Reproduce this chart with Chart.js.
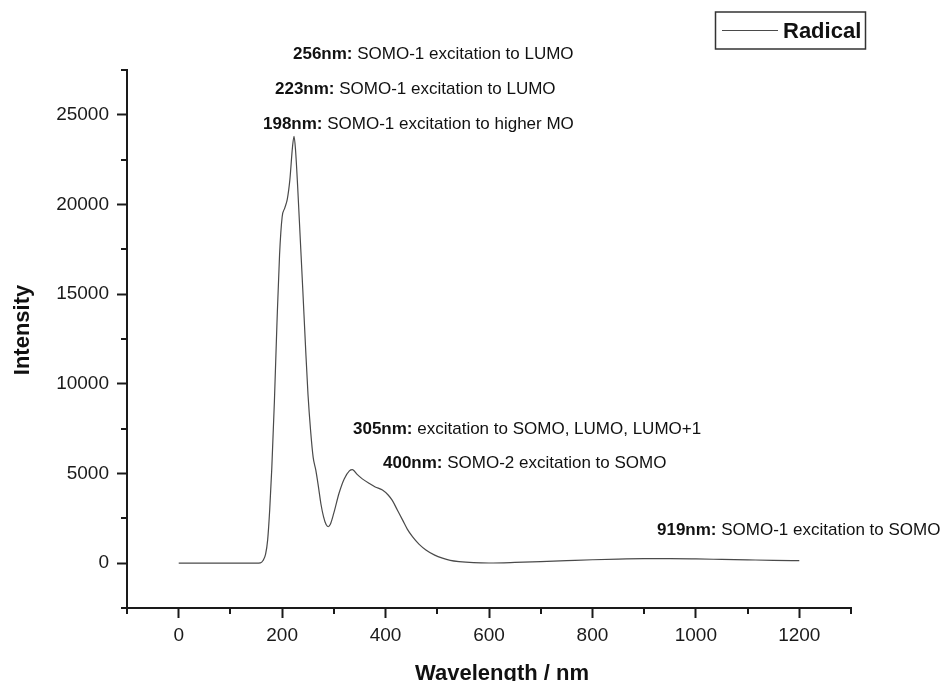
<!DOCTYPE html>
<html>
<head>
<meta charset="utf-8">
<script src="https://cdn.jsdelivr.net/npm/chart.js@4/dist/chart.umd.min.js"></script>
<style>
  body { margin: 0; background: #fff; }
  #wrap { width: 949px; height: 681px; position: relative; }
</style>
</head>
<body>
<div id="wrap"><canvas id="spectrumChart"></canvas></div>
<script>
// Datos del espectro
const wavelength = [0, 50, 100, 150, 158, 163, 168, 172, 176, 180, 185, 190, 195, 200, 205, 210, 215, 220, 223,
    226, 230, 235, 240, 245, 250, 255, 260, 265, 270, 275, 280, 285, 289, 293, 300, 310, 320, 330, 336,
    345, 355, 368, 380, 394, 405, 413, 423, 433, 442, 452, 465, 478, 495, 510, 525, 542, 570, 600, 650,
    700, 750, 800, 850, 900, 950, 1000, 1050, 1100, 1150, 1200];
const intensity = [0, 0, 0, 0, 20, 150, 500, 1300, 3000, 5300, 9000, 13400, 17200, 19300, 19800, 20300, 21400, 23200, 23800,
    23000, 21000, 18100, 15200, 12200, 9400, 7400, 5900, 5200, 4300, 3300, 2600, 2150, 2030, 2150, 2800, 3900, 4700, 5150, 5220,
    4950, 4700, 4450, 4250, 4080, 3800, 3500, 2950, 2400, 1900, 1480, 1050, 740, 450, 280, 160, 90, 30, 10, 40,
    90, 140, 190, 230, 250, 250, 235, 210, 185, 160, 140];

const seriesLabel = 'Radical';
const xTitle = 'Wavelength / nm';
const yTitle = 'Intensity';

// Ticks
const xTicks = [0, 200, 400, 600, 800, 1000, 1200];
const xMinorTicks = [-100, 100, 300, 500, 700, 900, 1100, 1300];
const yTicks = [0, 5000, 10000, 15000, 20000, 25000];
const yMinorTicks = [-2500, 2500, 7500, 12500, 17500, 22500, 27500];

// Anotaciones (parte en negrita + resto)
const annotationBold = ['256nm:', '223nm:', '198nm:', '305nm:', '400nm:', '919nm:'];
const annotationText = [
    'SOMO-1 excitation to LUMO',
    'SOMO-1 excitation to LUMO',
    'SOMO-1 excitation to higher MO',
    'excitation to SOMO, LUMO, LUMO+1',
    'SOMO-2 excitation to SOMO',
    'SOMO-1 excitation to SOMO'
];
// posiciones en pixeles (x inicio, linea base)
const annotationPos = [[293, 59], [275, 94], [263, 129], [353, 434], [383, 468], [657, 535]];

const FONT = "'Liberation Sans', Arial, sans-serif";
Chart.defaults.font.family = FONT;
Chart.defaults.color = '#1a1a1a';

// Plugin para ticks menores, leyenda, titulos y anotaciones
const extrasPlugin = {
    id: 'extras',
    afterDraw(chart) {
        const ctx = chart.ctx;
        const area = chart.chartArea;
        const xs = chart.scales.x;
        const ys = chart.scales.y;
        ctx.save();

        // ticks menores
        ctx.strokeStyle = '#1a1a1a';
        ctx.lineWidth = 2;
        ctx.beginPath();
        xMinorTicks.forEach(v => {
            const px = Math.round(xs.getPixelForValue(v));
            ctx.moveTo(px, area.bottom);
            ctx.lineTo(px, area.bottom + 6);
        });
        yMinorTicks.forEach(v => {
            const py = Math.round(ys.getPixelForValue(v));
            ctx.moveTo(area.left, py);
            ctx.lineTo(area.left - 6, py);
        });
        ctx.stroke();

        // titulos de ejes
        ctx.fillStyle = '#111';
        ctx.font = 'bold 22px ' + FONT;
        ctx.textAlign = 'center';
        ctx.textBaseline = 'middle';
        ctx.fillText(xTitle, 502, 674);
        ctx.save();
        ctx.translate(23, 330);
        ctx.rotate(-Math.PI / 2);
        ctx.fillText(yTitle, 0, 0);
        ctx.restore();

        // leyenda
        ctx.strokeStyle = '#333';
        ctx.lineWidth = 1.5;
        ctx.strokeRect(715.5, 12, 150, 37);
        ctx.strokeStyle = chart.data.datasets[0].borderColor;
        ctx.lineWidth = 1;
        ctx.beginPath();
        ctx.moveTo(722, 30.5);
        ctx.lineTo(778, 30.5);
        ctx.stroke();
        ctx.font = 'bold 22px ' + FONT;
        ctx.textAlign = 'left';
        ctx.textBaseline = 'alphabetic';
        ctx.fillText(chart.data.datasets[0].label, 783, 38);

        // anotaciones
        annotationBold.forEach((b, i) => {
            const [x, y] = annotationPos[i];
            ctx.font = 'bold 17px ' + FONT;
            ctx.fillText(b, x, y);
            const w = ctx.measureText(b + ' ').width;
            ctx.font = '17px ' + FONT;
            ctx.fillText(annotationText[i], x + w, y);
        });

        ctx.restore();
    }
};

const ctx = document.getElementById('spectrumChart').getContext('2d');
new Chart(ctx, {
    type: 'line',
    data: {
        datasets: [{
            label: seriesLabel,
            data: wavelength.map((w, i) => ({ x: w, y: intensity[i] })),
            borderColor: '#4a4a4a',
            borderWidth: 1.2,
            pointRadius: 0,
            cubicInterpolationMode: 'monotone',
            fill: false
        }]
    },
    options: {
        responsive: true,
        maintainAspectRatio: false,
        animation: false,
        layout: {
            padding: { top: 70, right: 98, left: 0, bottom: 0 }
        },
        plugins: {
            legend: { display: false },
            tooltip: { enabled: false }
        },
        scales: {
            x: {
                type: 'linear',
                min: -100,
                max: 1300,
                afterBuildTicks: (scale) => { scale.ticks = xTicks.map(v => ({ value: v })); },
                afterFit: (scale) => { scale.height = 73; },
                border: { display: true, color: '#1a1a1a', width: 2 },
                grid: { drawOnChartArea: false, drawTicks: true, tickLength: 10, tickWidth: 2, tickColor: '#1a1a1a' },
                ticks: {
                    font: { size: 19 },
                    color: '#1a1a1a',
                    padding: 6,
                    maxRotation: 0,
                    callback: (value) => String(value)
                }
            },
            y: {
                min: -2500,
                max: 27500,
                afterBuildTicks: (scale) => { scale.ticks = yTicks.map(v => ({ value: v })); },
                afterFit: (scale) => { scale.width = 127; },
                border: { display: true, color: '#1a1a1a', width: 2 },
                grid: { drawOnChartArea: false, drawTicks: true, tickLength: 10, tickWidth: 2, tickColor: '#1a1a1a' },
                ticks: {
                    font: { size: 19 },
                    color: '#1a1a1a',
                    padding: 8,
                    callback: (value) => String(value)
                }
            }
        }
    },
    plugins: [extrasPlugin]
});
</script>
</body>
</html>
